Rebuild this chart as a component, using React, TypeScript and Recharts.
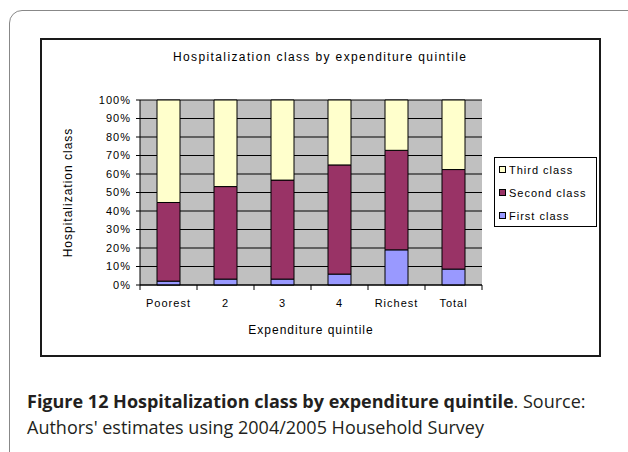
import React from "react";
import { BarChart, Bar, XAxis, YAxis, CartesianGrid } from "recharts";

const quintiles = ["Poorest", "2", "3", "4", "Richest", "Total"];
const firstClass = [2.1, 3.2, 3.2, 5.9, 19.0, 8.6];
const secondClass = [42.5, 50.0, 53.5, 59.0, 53.8, 53.8];
const thirdClass = [55.4, 46.8, 43.3, 35.1, 27.2, 37.6];
const yTicks = [0, 10, 20, 30, 40, 50, 60, 70, 80, 90, 100];

const SERIES = [
  { key: "first", name: "First class", color: "#9999FF" },
  { key: "second", name: "Second class", color: "#993366" },
  { key: "third", name: "Third class", color: "#FFFFCC" },
];

const data = quintiles.map((q, i) => ({
  name: q,
  first: firstClass[i],
  second: secondClass[i],
  third: thirdClass[i],
}));

const FONT = "'Liberation Sans', Arial, sans-serif";
const CAPTION_FONT = "'Open Sans', 'Noto Sans', sans-serif";

// Excel style: tick marks between categories, label in the middle
function XTick(props: any) {
  const { x, y, payload, index, width, visibleTicksCount } = props;
  const bw = width / visibleTicksCount;
  return (
    <g>
      <line x1={x - bw / 2} x2={x - bw / 2} y1={y - 8} y2={y - 3} stroke="#000" />
      {index === visibleTicksCount - 1 && (
        <line x1={x + bw / 2} x2={x + bw / 2} y1={y - 8} y2={y - 3} stroke="#000" />
      )}
      <text
        x={x}
        y={y + 14}
        textAnchor="middle"
        fontSize={11}
        letterSpacing={1}
        fontFamily={FONT}
        fill="#000"
      >
        {payload.value}
      </text>
    </g>
  );
}

function LegendBox() {
  return (
    <div
      style={{
        position: "absolute",
        left: 494,
        top: 157,
        width: 101,
        height: 68,
        border: "1px solid #000",
        background: "#fff",
        fontFamily: FONT,
        fontSize: 11,
        letterSpacing: 1,
        color: "#000",
      }}
    >
      {[...SERIES].reverse().map((s) => (
        <div
          key={s.key}
          style={{ display: "flex", alignItems: "center", height: 23, paddingLeft: 4 }}
        >
          <span
            style={{
              width: 5,
              height: 5,
              border: "1px solid #000",
              background: s.color,
              display: "inline-block",
              marginRight: 3,
            }}
          />
          <span>{s.name}</span>
        </div>
      ))}
    </div>
  );
}

export default function App() {
  return (
    <div
      style={{
        position: "absolute",
        left: 0,
        top: 0,
        width: 628,
        height: 452,
        background: "#fff",
        overflow: "hidden",
      }}
    >
      {/* card */}
      <div
        style={{
          position: "absolute",
          left: 9,
          top: 10,
          width: 640,
          height: 460,
          border: "1px solid #888",
          borderRadius: 13,
        }}
      />
      {/* chart frame */}
      <div
        style={{
          position: "absolute",
          left: 40,
          top: 38,
          width: 557,
          height: 315,
          border: "2px solid #1a1a1a",
        }}
      />
      <svg
        width={628}
        height={452}
        style={{ position: "absolute", left: 0, top: 0, pointerEvents: "none" }}
      >
        <text
          x={319.5}
          y={61}
          textAnchor="middle"
          textLength={293}
          lengthAdjust="spacing"
          fontFamily={FONT}
          fontSize={12}
          fill="#000"
        >
          Hospitalization class by expenditure quintile
        </text>
      </svg>
      <div style={{ position: "absolute", left: 0, top: 0 }}>
        <BarChart
          width={628}
          height={452}
          data={data}
          barSize={23}
          margin={{ top: 100, right: 146, bottom: 117, left: 50 }}
        >
          <CartesianGrid vertical={false} stroke="#000" fill="#C0C0C0" fillOpacity={1} />
          <XAxis
            dataKey="name"
            height={50}
            axisLine={{ stroke: "#000" }}
            tickLine={false}
            tick={<XTick />}
            interval={0}
            label={{
              value: "Expenditure quintile",
              position: "insideBottom",
              offset: 1,
              style: { fontSize: 12, letterSpacing: 1, fontFamily: FONT, fill: "#000" },
            }}
          />
          <YAxis
            width={90}
            domain={[0, 100]}
            ticks={yTicks}
            interval={0}
            tickFormatter={(v) => `${v}%`}
            tickSize={4}
            tickMargin={5}
            axisLine={{ stroke: "#000" }}
            tickLine={{ stroke: "#000" }}
            tick={{ fontSize: 11, letterSpacing: 1, fontFamily: FONT, fill: "#000" }}
            label={{
              value: "Hospitalization class",
              angle: -90,
              position: "insideLeft",
              offset: 18,
              style: {
                textAnchor: "middle",
                fontSize: 12,
                letterSpacing: 1,
                fontFamily: FONT,
                fill: "#000",
              },
            }}
          />
          <YAxis
            yAxisId="frame"
            orientation="right"
            width={0}
            tick={false}
            tickLine={false}
            axisLine={{ stroke: "#808080" }}
          />
          {SERIES.map((s) => (
            <Bar
              key={s.key}
              dataKey={s.key}
              name={s.name}
              stackId="a"
              fill={s.color}
              stroke="#000"
              strokeWidth={1}
              isAnimationActive={false}
            />
          ))}
        </BarChart>
      </div>
      <LegendBox />
      {/* caption */}
      <div
        style={{
          position: "absolute",
          left: 27,
          top: 388,
          width: 600,
          fontFamily: CAPTION_FONT,
          fontSize: 18,
          lineHeight: "26px",
          color: "#231f20",
          whiteSpace: "nowrap",
        }}
      >
        <b>Figure 12 Hospitalization class by expenditure quintile</b>. Source:
        <br />
        Authors' estimates using 2004/2005 Household Survey
      </div>
    </div>
  );
}
